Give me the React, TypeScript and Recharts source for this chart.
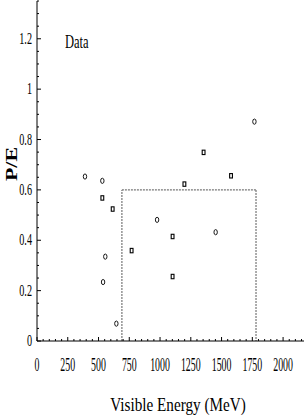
import { ScatterChart, Scatter, XAxis, YAxis, ReferenceLine } from 'recharts';

// circles (open ellipses)
const circleEnergy = [390, 531, 555, 537, 645, 976, 1452, 1767];
const circleRatio = [0.653, 0.636, 0.335, 0.234, 0.069, 0.481, 0.432, 0.871];

// squares
const squareEnergy = [531, 615, 769, 1102, 1102, 1198, 1354, 1577];
const squareRatio = [0.568, 0.524, 0.359, 0.415, 0.256, 0.623, 0.749, 0.656];

// dashed signal box
const boxEnergy = [690, 1780];
const boxRatio = 0.6;

const xMajorTicks = [0, 250, 500, 750, 1000, 1250, 1500, 1750, 2000];
const yMajorTicks = [0, 0.2, 0.4, 0.6, 0.8, 1, 1.2];
const xDomain: [number, number] = [0, 2170];
const yDomain: [number, number] = [0, 1.35];

const xTicks: number[] = [];
for (let v = 0; v <= 2150; v += 50) xTicks.push(v);
const yTicks: number[] = [];
for (let i = 0; i <= 27; i++) yTicks.push(Math.round(i * 5) / 100);

const circles = circleEnergy.map((e, i) => ({ e, r: circleRatio[i] }));
const squares = squareEnergy.map((e, i) => ({ e, r: squareRatio[i] }));

const FONT = '"Liberation Serif", "Times New Roman", serif';

const XTick = ({ x, y, payload }: any) => {
  const major = xMajorTicks.includes(payload.value);
  return (
    <g>
      <line x1={x} y1={y} x2={x} y2={y - (major ? 4 : 2)} stroke="#000" />
      {major && (
        <text
          transform={`translate(${x},${y + 30}) scale(0.52,1)`}
          textAnchor="middle"
          fontSize={19}
          fontFamily={FONT}
          fill="#000"
        >
          {payload.value}
        </text>
      )}
    </g>
  );
};

const YTick = ({ x, y, payload }: any) => {
  const major = yMajorTicks.some((t) => Math.abs(t - payload.value) < 1e-6);
  return (
    <g>
      <line x1={x} y1={y} x2={x + (major ? 4 : 2)} y2={y} stroke="#000" />
      {major && (
        <text
          transform={`translate(${x - 5},${y + 5}) scale(0.6,1)`}
          textAnchor="end"
          fontSize={17}
          fontFamily={FONT}
          fill="#000"
        >
          {String(Math.round(payload.value * 10) / 10)}
        </text>
      )}
    </g>
  );
};

const Ellipse = ({ cx, cy }: any) => (
  <ellipse cx={cx} cy={cy} rx={1.7} ry={2.6} fill="#fff" stroke="#000" strokeWidth={0.9} />
);

const Square = ({ cx, cy }: any) => (
  <rect x={cx - 1.4} y={cy - 2.2} width={2.8} height={4.4} fill="#fff" stroke="#000" strokeWidth={1.1} />
);

const boxStyle = { stroke: '#777', strokeWidth: 1.2, strokeDasharray: '2 1' };

export default function App() {
  return (
    <div style={{ position: 'absolute', left: 0, top: 0, width: 305, height: 420, background: '#fff' }}>
      <ScatterChart width={305} height={420} margin={{ top: 1, right: 1, left: 0, bottom: 0 }}>
        <XAxis
          dataKey="e"
          type="number"
          domain={xDomain}
          ticks={xTicks}
          interval={0}
          height={79}
          tickSize={0}
          tickMargin={0}
          tickLine={false}
          axisLine={{ stroke: '#000' }}
          tick={<XTick />}
          allowDataOverflow
        />
        <XAxis xAxisId="top" orientation="top" type="number" domain={xDomain} height={0} tick={false} tickLine={false} axisLine={{ stroke: '#000' }} />
        <YAxis
          dataKey="r"
          type="number"
          domain={yDomain}
          ticks={yTicks}
          interval={0}
          width={37}
          tickSize={0}
          tickMargin={0}
          tickLine={false}
          axisLine={{ stroke: '#000' }}
          tick={<YTick />}
          allowDataOverflow
        />
        <YAxis yAxisId="right" orientation="right" type="number" domain={yDomain} width={0} tick={false} tickLine={false} axisLine={{ stroke: '#000' }} />
        <ReferenceLine segment={[{ x: boxEnergy[0], y: 0 }, { x: boxEnergy[0], y: boxRatio }]} {...boxStyle} />
        <ReferenceLine segment={[{ x: boxEnergy[0], y: boxRatio }, { x: boxEnergy[1], y: boxRatio }]} {...boxStyle} />
        <ReferenceLine segment={[{ x: boxEnergy[1], y: boxRatio }, { x: boxEnergy[1], y: 0 }]} {...boxStyle} />
        <Scatter data={circles} shape={<Ellipse />} isAnimationActive={false} />
        <Scatter data={squares} shape={<Square />} isAnimationActive={false} />
      </ScatterChart>
      <svg width={305} height={420} style={{ position: 'absolute', left: 0, top: 0, pointerEvents: 'none' }}>
        <text transform="translate(65,48) scale(0.66,1)" fontSize={19} fontFamily={FONT} fill="#000">
          Data
        </text>
        <text transform="translate(178,411) scale(0.8,1)" textAnchor="middle" fontSize={19} fontFamily={FONT} fill="#000">
          Visible Energy (MeV)
        </text>
        <text
          transform="translate(17,164) rotate(-90) scale(1,0.72)"
          textAnchor="middle"
          fontSize={22}
          fontWeight="bold"
          fontFamily={FONT}
          fill="#000"
        >
          P/E
        </text>
      </svg>
    </div>
  );
}
